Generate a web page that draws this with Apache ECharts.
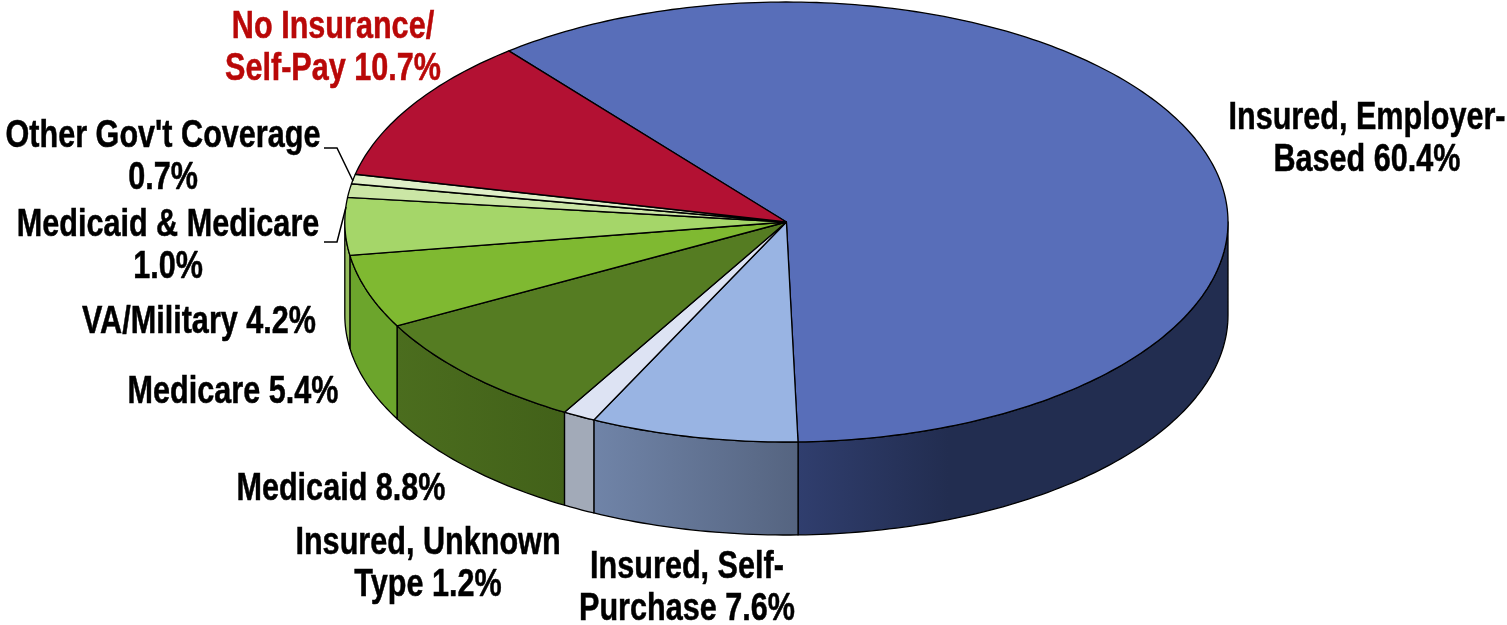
<!DOCTYPE html>
<html>
<head>
<meta charset="utf-8">
<title>Insurance coverage</title>
<script src="https://cdn.jsdelivr.net/npm/echarts@6/dist/echarts.min.js"></script>
<style>
html, body { margin: 0; padding: 0; background: #fff; }
#main { width: 1507px; height: 625px; }
</style>
</head>
<body>
<div id="main"></div>
<script>
// clockwise from the top-left edge of the blue slice
var categories = ['Insured, Employer-Based', 'Insured, Self-Purchase', 'Insured, Unknown Type', 'Medicaid', 'Medicare', 'VA/Military', 'Medicaid & Medicare', "Other Gov't Coverage", 'No Insurance/Self-Pay'];
var shares = [60.4, 7.6, 1.2, 8.8, 5.4, 4.2, 1.0, 0.7, 10.7];
var labelLines = [
    ['Insured, Employer-', 'Based 60.4%'],
    ['Insured, Self-', 'Purchase 7.6%'],
    ['Insured, Unknown', 'Type 1.2%'],
    ['Medicaid 8.8%'],
    ['Medicare 5.4%'],
    ['VA/Military 4.2%'],
    ['Medicaid & Medicare', '1.0%'],
    ["Other Gov't Coverage", '0.7%'],
    ['No Insurance/', 'Self-Pay 10.7%']
];

// styling and layout
var topColors = ['#586eb9', '#99b4e3', '#dde3f3', '#557c22', '#7fb931', '#a5d669', '#cbe6a5', '#e0f0c8', '#b31133'];
var wallColors = [
    ['#303e6e', '#222d50'], ['#7084a8', '#556480'], ['#a2aab8', '#a2aab8'],
    ['#4b6d1e', '#426119'], ['#6ca52c', '#6ca52c'], ['#94bc5c', '#94bc5c'],
    ['#a8c880', '#a8c880'], ['#b8d498', '#b8d498'], ['#801030', '#801030']
];
var labelPos = [[1367, 118.5], [687, 567.5], [428, 543.5], [341, 489.5], [233, 392.5], [199, 322.5], [168, 225.5], [163, 136.5], [333, 27.5]];
var labelColors = ['#000', '#000', '#000', '#000', '#000', '#000', '#000', '#000', '#b90808'];
var lineGap = 42.5;
var textScale = 0.805;

var cx = 786.4, cy = 222, rx = 441.6, ry = 220, depth = 93;
var startDeg = -38.95;

var total = shares.reduce(function (a, b) { return a + b; }, 0);

function sliceRange(i) {
    var before = 0;
    for (var k = 0; k < i; k++) before += shares[k];
    return [startDeg + before / total * 360, startDeg + (before + shares[i]) / total * 360];
}

// angle is clockwise from the top of the ellipse
function rimPoint(deg, drop) {
    var r = deg * Math.PI / 180;
    return [cx + rx * Math.sin(r), cy - ry * Math.cos(r) + (drop || 0)];
}

function arcPoints(a, b, drop) {
    var pts = [];
    var n = Math.max(2, Math.ceil(Math.abs(b - a)));
    for (var i = 0; i <= n; i++) pts.push(rimPoint(a + (b - a) * i / n, drop));
    return pts;
}

function renderTop(params) {
    var range = sliceRange(params.dataIndex);
    return {
        type: 'polygon',
        shape: { points: [[cx, cy]].concat(arcPoints(range[0], range[1])) },
        style: { fill: topColors[params.dataIndex], stroke: '#000', lineWidth: 1.3, lineJoin: 'round' }
    };
}

function renderWall(params) {
    var i = params.dataIndex;
    var range = sliceRange(i);
    // only the front half of the rim shows a side wall
    var a = Math.max(range[0], 90), b = Math.min(range[1], 270);
    if (b <= a) return { type: 'group', children: [] };
    var stops = i === 0
        ? [{ offset: 0, color: wallColors[i][0] }, { offset: 0.35, color: wallColors[i][1] }, { offset: 1, color: wallColors[i][1] }]
        : [{ offset: 0, color: wallColors[i][0] }, { offset: 1, color: wallColors[i][1] }];
    return {
        type: 'polygon',
        shape: { points: arcPoints(a, b, 0).concat(arcPoints(b, a, depth)) },
        style: { fill: new echarts.graphic.LinearGradient(0, 0, 1, 0, stops), stroke: '#000', lineWidth: 1.3, lineJoin: 'round' }
    };
}

function renderLabel(params) {
    var i = params.dataIndex;
    return {
        type: 'group',
        children: labelLines[i].map(function (line, k) {
            return {
                type: 'text',
                x: labelPos[i][0],
                y: labelPos[i][1] + k * lineGap,
                scaleX: textScale,
                style: {
                    text: line,
                    font: 'bold 38px "Liberation Sans", Arial, sans-serif',
                    fill: labelColors[i],
                    stroke: labelColors[i],
                    lineWidth: 0.5,
                    align: 'center',
                    verticalAlign: 'middle'
                }
            };
        })
    };
}

var rows = categories.map(function (name, i) { return { name: name, value: shares[i] }; });

function customSeries(name, fn, z) {
    return {
        type: 'custom',
        name: name,
        coordinateSystem: 'none',
        silent: true,
        animation: false,
        z: z,
        data: rows,
        renderItem: fn
    };
}

var myChart = echarts.init(document.getElementById('main'), null, { renderer: 'canvas' });
myChart.setOption({
    backgroundColor: '#fff',
    animation: false,
    // leader lines of the two smallest slices
    graphic: [
        { type: 'polyline', z: 5, shape: { points: [[324, 148], [337, 148], [353, 181]] }, style: { fill: null, stroke: '#000', lineWidth: 1.5 } },
        { type: 'polyline', z: 5, shape: { points: [[324, 242], [337, 242], [346, 207]] }, style: { fill: null, stroke: '#000', lineWidth: 1.5 } }
    ],
    series: [
        customSeries('walls', renderWall, 1),
        customSeries('tops', renderTop, 2),
        customSeries('labels', renderLabel, 3)
    ]
});
</script>
</body>
</html>
